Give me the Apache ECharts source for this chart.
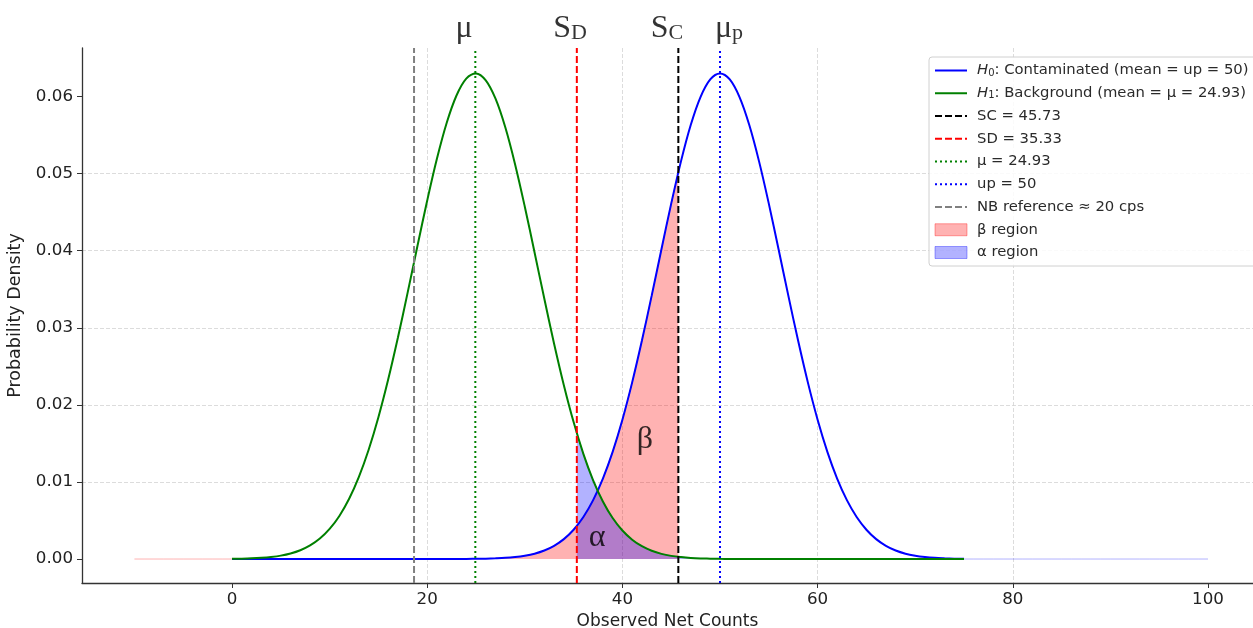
<!DOCTYPE html>
<html><head><meta charset="utf-8">
<script src="https://cdn.jsdelivr.net/npm/echarts@6/dist/echarts.min.js"></script>
<style>html,body{margin:0;padding:0;background:#fff}#c{width:1253px;height:628px}</style>
</head><body><div id="c"></div>
<script>
// ---------- data ----------
const countsX = Array.from({length: 76}, (_, i) => i); // x grid 0..75
const h0Density = [
  0,0,0,0,0,0,0,0,0,0,
  0,0,0,0,0,0,0,0,0,0,
  0,0,0,0.00001,0.00001,0.00003,0.00005,0.00009,0.00015,0.00026,
  0.00043,0.00069,0.00110,0.00171,0.00258,0.00380,0.00545,0.00764,0.01044,0.01391,
  0.01808,0.02292,0.02834,0.03417,0.04019,0.04611,0.05159,0.05630,0.05993,0.06222,
  0.06300,
  0.06222,0.05993,0.05630,0.05159,0.04611,0.04019,0.03417,0.02834,0.02292,0.01808,
  0.01391,0.01044,0.00764,0.00545,0.00380,0.00258,0.00171,0.00110,0.00069,0.00043,
  0.00026,0.00015,0.00009,0.00005,0.00003
];
const h1Density = [
  0.00003,0.00005,0.00009,0.00016,0.00027,0.00044,0.00072,0.00114,0.00176,0.00265,
  0.00390,0.00559,0.00782,0.01066,0.01418,0.01840,0.02328,0.02873,0.03459,0.04062,
  0.04651,0.05195,0.05660,0.06014,0.06233,0.06300,0.06210,0.05972,0.05601,0.05123,
  0.04571,0.03977,0.03376,0.02794,0.02256,0.01777,0.01365,0.01022,0.00747,0.00532,
  0.00370,0.00251,0.00166,0.00107,0.00067,0.00041,0.00025,0.00014,0.00008,0.00005,
  0.00002,0.00001,0.00001,0,0,0,0,0,0,0,
  0,0,0,0,0,0,0,0,0,0,
  0,0,0,0,0,0
];
const SC = 45.73, SD = 35.33, MU = 24.93, UP = 50, NB = 18.65;
const h0AtSC = 0.05017;   // H0 density at SC
const h1AtSD = 0.01633;   // H1 density at SD
const betaStart = -10;    // beta fill starts here
const alphaEnd = 100;     // alpha fill ends here

const refNames  = ['SC = 45.73', 'SD = 35.33', 'μ = 24.93', 'up = 50', 'NB reference ≈ 20 cps'];
const refValues = [SC, SD, MU, UP, NB];

const xTicks = [0, 20, 40, 60, 80, 100];
const yTicks = [0, 0.01, 0.02, 0.03, 0.04, 0.05, 0.06];
const xMin = -15.37, xMax = 104.61, yMin = -0.00311, yMax = 0.0663;

const annoText = ['{m|μ}', '{m|S}{s|D}', '{m|S}{s|C}', '{m|μ}{s|p}', '{m|β}', '{m|α}'];
const annoX = [23.77, 34.63, 44.57, 50.92, 42.3, 37.4];
const annoY = [0.0691, 0.0691, 0.0691, 0.0691, 0.0157, 0.0031];

// ---------- build ----------
const h0Pts = countsX.map((x, i) => [x, h0Density[i]]);
const h1Pts = countsX.map((x, i) => [x, h1Density[i]]);
const betaPts = [];
for (let x = betaStart; x < 0; x++) betaPts.push([x, 0]);
countsX.forEach((x, i) => { if (x <= SC) betaPts.push([x, h0Density[i]]); });
betaPts.push([SC, h0AtSC]);
const alphaPts = [[SD, h1AtSD]];
countsX.forEach((x, i) => { if (x >= SD) alphaPts.push([x, h1Density[i]]); });
for (let x = countsX[countsX.length - 1] + 1; x <= alphaEnd; x++) alphaPts.push([x, 0]);

const refStyles = [
  {color: '#000000', type: [7, 3]},
  {color: '#ff0000', type: [7, 3]},
  {color: '#008000', type: [2, 3]},
  {color: '#0000ff', type: [2, 3]},
  {color: '#808080', type: [7, 3]}
];

const series = [];
series.push({
  name: 'β region', type: 'line', data: betaPts, symbol: 'none', z: 1,
  lineStyle: {color: 'rgba(255,0,0,0.3)', width: 1},
  itemStyle: {color: 'rgba(255,0,0,0.3)'},
  areaStyle: {color: 'rgba(255,0,0,0.3)', opacity: 1}
});
series.push({
  name: 'α region', type: 'line', data: alphaPts, symbol: 'none', z: 1,
  lineStyle: {color: 'rgba(0,0,255,0.3)', width: 1},
  itemStyle: {color: 'rgba(0,0,255,0.3)'},
  areaStyle: {color: 'rgba(0,0,255,0.3)', opacity: 1}
});
series.push({
  name: 'H0: Contaminated (mean = up = 50)', type: 'line', data: h0Pts, symbol: 'none',
  smooth: 0.35, z: 3, lineStyle: {color: '#0000ff', width: 2}, itemStyle: {color: '#0000ff'}
});
series.push({
  name: 'H1: Background (mean = μ = 24.93)', type: 'line', data: h1Pts, symbol: 'none',
  smooth: 0.35, z: 3, lineStyle: {color: '#008000', width: 2}, itemStyle: {color: '#008000'}
});
refNames.forEach((n, i) => {
  series.push({
    name: n, type: 'line', symbol: 'none', z: 4,
    data: [[refValues[i], yMin], [refValues[i], yMax]],
    lineStyle: {color: refStyles[i].color, width: 2, type: refStyles[i].type},
    itemStyle: {color: refStyles[i].color}
  });
});
series.push({
  type: 'scatter', symbolSize: 1, clip: false, z: 6, silent: true,
  itemStyle: {color: 'rgba(0,0,0,0)'},
  data: annoX.map((x, i) => ({value: [x, annoY[i]], label: {formatter: annoText[i]}})),
  label: {
    show: true, position: 'inside',
    rich: {
      m: {fontFamily: 'Liberation Serif', fontSize: 32, color: '#000', verticalAlign: 'bottom', lineHeight: 36},
      s: {fontFamily: 'Liberation Serif', fontSize: 22, color: '#000', verticalAlign: 'bottom', lineHeight: 30}
    }
  }
});

const legendData = [
  'H0: Contaminated (mean = up = 50)',
  'H1: Background (mean = μ = 24.93)',
  ...refNames,
  {name: 'β region', icon: 'rect', itemStyle: {opacity: 1, color: 'rgba(255,0,0,0.3)', borderColor: 'rgba(255,0,0,0.35)', borderWidth: 1}},
  {name: 'α region', icon: 'rect', itemStyle: {opacity: 1, color: 'rgba(0,0,255,0.3)', borderColor: 'rgba(0,0,255,0.35)', borderWidth: 1}}
];

const axisColor = '#333';
const labelColor = '#222';
const font = 'DejaVu Sans';

const chart = echarts.init(document.getElementById('c'), null, {renderer: 'canvas'});
chart.setOption({
  animation: false,
  backgroundColor: '#fff',
  grid: {left: 82, right: 0, top: 48, bottom: 45, containLabel: false, outerBoundsMode: 'none'},
  legend: {
    orient: 'vertical', left: 929, top: 57,
    data: legendData,
    itemWidth: 32, itemHeight: 12, itemGap: 7.75,
    padding: [6, 8, 6, 5],
    backgroundColor: 'rgba(255,255,255,0.85)',
    borderColor: '#d0d0d0', borderWidth: 1, borderRadius: 3,
    selectedMode: false,
    itemStyle: {opacity: 0},
    formatter: function (name) {
      if (name.indexOf('H0') === 0) return '{i|H}{sub|0}' + name.slice(2);
      if (name.indexOf('H1') === 0) return '{i|H}{sub|1}' + name.slice(2);
      return name;
    },
    textStyle: {
      fontFamily: font, fontSize: 14.8, color: '#2a2a2a', padding: [0, 0, 0, 5],
      rich: {
        i: {fontFamily: font, fontStyle: 'italic', fontSize: 14.8, color: '#2a2a2a', verticalAlign: 'bottom', lineHeight: 15},
        sub: {fontFamily: font, fontSize: 10, color: '#2a2a2a', verticalAlign: 'bottom', lineHeight: 12}
      }
    }
  },
  xAxis: {
    type: 'value', min: xMin, max: xMax,
    name: 'Observed Net Counts', nameLocation: 'middle', nameGap: 26,
    nameTextStyle: {fontFamily: font, fontSize: 17, color: labelColor},
    axisLine: {show: true, onZero: false, lineStyle: {color: axisColor, width: 1.3}},
    axisTick: {show: true, customValues: xTicks, length: 5, lineStyle: {color: axisColor, width: 1}},
    axisLabel: {
      customValues: xTicks, fontFamily: font, fontSize: 16.7, color: labelColor, margin: 8,
      formatter: v => (Math.abs(v / 20 - Math.round(v / 20)) < 1e-6 ? String(Math.round(v)) : '')
    },
    splitLine: {show: true, showMinLine: false, showMaxLine: false,
      lineStyle: {color: '#d3d3d3', width: 0.8, type: [4, 2]}}
  },
  yAxis: {
    type: 'value', min: yMin, max: yMax,
    name: 'Probability Density', nameLocation: 'middle', nameGap: 48,
    nameTextStyle: {fontFamily: font, fontSize: 17.5, color: labelColor},
    axisLine: {show: true, onZero: false, lineStyle: {color: axisColor, width: 1.3}},
    axisTick: {show: true, customValues: yTicks, length: 5, lineStyle: {color: axisColor, width: 1}},
    axisLabel: {
      customValues: yTicks, fontFamily: font, fontSize: 16.7, color: labelColor, margin: 9,
      formatter: v => (Math.abs(v / 0.01 - Math.round(v / 0.01)) < 1e-6 ? v.toFixed(2) : '')
    },
    splitLine: {show: true, showMinLine: false, showMaxLine: false,
      lineStyle: {color: '#d3d3d3', width: 0.8, type: [4, 2]}}
  },
  series: series
});
</script>
</body></html>
